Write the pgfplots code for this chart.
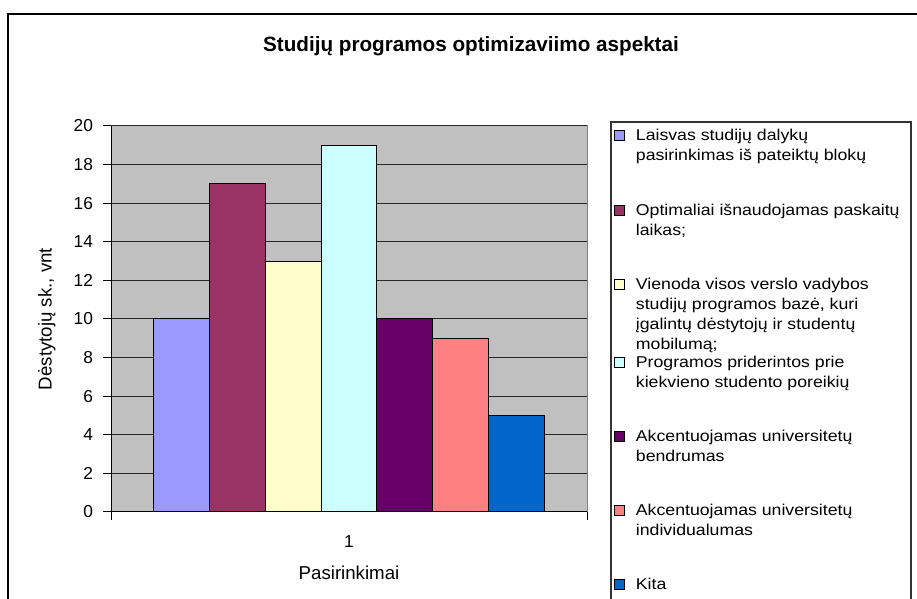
\documentclass[border=0pt]{standalone}
\usepackage{fontspec}
\setmainfont{Liberation Sans}
\newfontfamily\legfont[FakeStretch=1.13]{Liberation Sans}
\usepackage{pgfplots}
\pgfplotsset{compat=1.18}
\definecolor{cLais}{HTML}{9999FF}
\definecolor{cOpt}{HTML}{993366}
\definecolor{cVien}{HTML}{FFFFCC}
\definecolor{cProg}{HTML}{CCFFFF}
\definecolor{cBend}{HTML}{660066}
\definecolor{cInd}{HTML}{FF8080}
\definecolor{cKita}{HTML}{0066CC}
\definecolor{PlotGray}{HTML}{C0C0C0}
\definecolor{Border}{HTML}{808080}
% legend entry: strut fixes the row pitch (height 9.5pt + depth #1)
\newcommand{\lent}[2]{\rule[-#1]{0pt}{9.5pt}\parbox[t]{215pt}{#2}}

\begin{document}
\begin{tikzpicture}[x=0.75pt,y=0.75pt]
  \useasboundingbox (0,0) rectangle (917,599);
  \clip (0,0) rectangle (917,599);
  % outer chart frame (cut at right and bottom)
  \draw[line width=1.2pt] (8,-20) -- (8,585) -- (940,585);
  % legend frame
  \draw[line width=0.8pt,draw=black!80] (611,-20) rectangle (911,477);
  \node[anchor=base,font=\fontsize{15.5}{18}\selectfont\bfseries] at (471,547)
    {Studijų programos optimizaviimo aspektai};

  \begin{axis}[
      at={(83.25pt,65.25pt)}, anchor=south west,
      scale only axis, width=357pt, height=289.5pt,
      xmin=0.5, xmax=1.5, ymin=0, ymax=20,
      ytick={0,2,...,20},
      ybar=0pt, bar width=41.9pt,
      ymajorgrids,
      grid style={draw=black!85,line width=0.75pt},
      axis x line*=bottom, axis y line*=left,
      axis line style={draw=black,line width=0.75pt,-},
      axis background/.style={fill=PlotGray,draw=Border,line width=0.75pt},
      tick align=outside, major tick length=6pt,
      tick style={draw=black,line width=0.75pt},
      xtick={0.5,1.5}, xticklabels={},
      extra x ticks={1}, extra x tick labels={1},
      extra x tick style={major tick length=0pt,
        xticklabel style={anchor=base,yshift=-27pt}},
      /pgf/number format/assume math mode=true,
      tick label style={font=\fontsize{13}{15}\selectfont},
      yticklabel style={xshift=-4pt},
      ylabel={Dėstytojų sk., vnt},
      ylabel style={at={(axis description cs:-0.135,0.5)},anchor=center,
        font=\fontsize{14}{16}\selectfont},
      xlabel={Pasirinkimai},
      xlabel style={at={(axis description cs:0.5,-0.176)},anchor=base,
        font=\fontsize{14}{16}\selectfont},
      every axis plot post/.append style={
        legend image code/.code={\draw[##1,line width=0.75pt] (0pt,0pt) rectangle (7.5pt,7.5pt);}},
      legend style={draw=none,fill=none,inner sep=0pt,
        at={(1.0567,0.9914)},anchor=north west,
        row sep=0pt,column sep=8pt,
        cells={anchor=base west},
        nodes={inner sep=0pt,text depth=,text height=},
        font=\legfont\fontsize{11.75}{15}\selectfont},
    ]
    \addplot[fill=cLais,draw=black,line width=0.75pt] coordinates {(1,10)};
    \addlegendentry{\lent{47pt}{Laisvas studijų dalykų\\pasirinkimas iš pateiktų blokų}}
    \addplot[fill=cOpt,draw=black,line width=0.75pt] coordinates {(1,17)};
    \addlegendentry{\lent{47pt}{Optimaliai išnaudojamas paskaitų\\laikas;}}
    \addplot[fill=cVien,draw=black,line width=0.75pt] coordinates {(1,13)};
    \addlegendentry{\lent{50.5pt}{Vienoda visos verslo vadybos\\studijų programos bazė, kuri\\įgalintų dėstytojų ir studentų\\mobilumą;}}
    \addplot[fill=cProg,draw=black,line width=0.75pt] coordinates {(1,19)};
    \addlegendentry{\lent{47pt}{Programos priderintos prie\\kiekvieno studento poreikių}}
    \addplot[fill=cBend,draw=black,line width=0.75pt] coordinates {(1,10)};
    \addlegendentry{\lent{47pt}{Akcentuojamas universitetų\\bendrumas}}
    \addplot[fill=cInd,draw=black,line width=0.75pt] coordinates {(1,9)};
    \addlegendentry{\lent{47pt}{Akcentuojamas universitetų\\individualumas}}
    \addplot[fill=cKita,draw=black,line width=0.75pt] coordinates {(1,5)};
    \addlegendentry{\lent{3pt}{Kita}}
  \end{axis}
\end{tikzpicture}
\end{document}
